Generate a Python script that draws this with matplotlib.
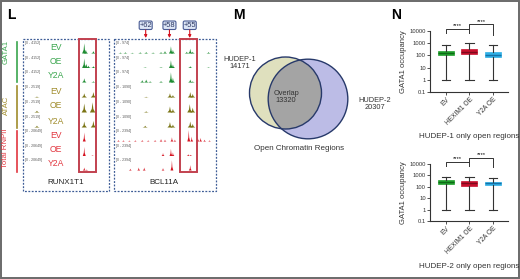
import numpy as np
import matplotlib.pyplot as plt
from matplotlib.patches import Circle, Rectangle, FancyBboxPatch

plt.rcParams['font.family'] = ['Liberation Sans', 'DejaVu Sans']

W, H = 520, 279

# ---- track data (position as fraction of window, height as fraction of track range)
groups = ['GATA1', 'ATAC', 'Total RNPII']
samples = ['EV', 'OE', 'Y2A']
group_colors = ['#1e8c32', '#7a7414', '#d5121f']
label_colors = ['#3aa64e', '#a08c2c', '#e2363f']
left_ranges = ['[0 - 4152]', '[0 - 2519]', '[0 - 20649]']
right_ranges = ['[0 - 974]', '[0 - 1090]', '[0 - 2394]']

runx1t1_peaks = [
    [(0.72, 0.85), (0.74, 0.3), (0.83, 0.2)],
    [(0.72, 0.8), (0.745, 0.35), (0.77, 0.2), (0.83, 0.15)],
    [(0.72, 0.35), (0.83, 0.1)],
    [(0.15, 0.08), (0.72, 0.35), (0.83, 0.45)],
    [(0.15, 0.15), (0.72, 0.75), (0.82, 0.85)],
    [(0.15, 0.15), (0.72, 0.5), (0.83, 0.55)],
    [(0.72, 0.75)],
    [(0.72, 0.75), (0.82, 0.05)],
    [(0.72, 0.25), (0.75, 0.08)],
]
bcl11a_peaks = [
    [(0.05, 0.08), (0.1, 0.1), (0.17, 0.06), (0.25, 0.1), (0.31, 0.12), (0.38, 0.08),
     (0.46, 0.12), (0.5, 0.2), (0.56, 0.6), (0.58, 0.3), (0.72, 0.15), (0.755, 0.4),
     (0.78, 0.15), (0.94, 0.12)],
    [(0.3, 0.05), (0.46, 0.06), (0.56, 0.65), (0.58, 0.3), (0.755, 0.15), (0.94, 0.05)],
    [(0.27, 0.2), (0.31, 0.25), (0.35, 0.1), (0.46, 0.12), (0.56, 0.85), (0.58, 0.4),
     (0.755, 0.25), (0.78, 0.1)],
    [(0.31, 0.06), (0.55, 0.35), (0.58, 0.2), (0.755, 0.45), (0.78, 0.3)],
    [(0.31, 0.1), (0.55, 0.5), (0.58, 0.3), (0.75, 0.7), (0.78, 0.4)],
    [(0.3, 0.15), (0.55, 0.45), (0.58, 0.25), (0.755, 0.5), (0.78, 0.3)],
    [(0.03, 0.12), (0.08, 0.1), (0.14, 0.08), (0.2, 0.1), (0.27, 0.12), (0.33, 0.1),
     (0.4, 0.12), (0.46, 0.2), (0.5, 0.15), (0.57, 0.35), (0.6, 0.15), (0.74, 0.95),
     (0.77, 0.4), (0.83, 0.5), (0.86, 0.3), (0.9, 0.15), (0.95, 0.1)],
    [(0.48, 0.25), (0.56, 0.6), (0.58, 0.3), (0.735, 0.15), (0.76, 0.1)],
    [(0.15, 0.15), (0.235, 0.25), (0.29, 0.25), (0.48, 0.2), (0.57, 0.85), (0.755, 0.45)],
]
enhancers = ['+62', '+58', '+55']
enhancer_pos = [0.31, 0.55, 0.755]

# ---- venn data
venn_names = ['HUDEP-1', 'HUDEP-2']
venn_only = [14171, 20307]
venn_overlap = 13320

# ---- box plot data (GATA1 occupancy)
box_labels = ['EV', 'HEXIM1 OE', 'Y2A OE']
box_colors = ['#22a22e', '#c8102e', '#2fb0e6']
med_colors = ['#0d6b16', '#7d0a1c', '#1572a8']
h1_low = [1, 1, 1]
h1_q1 = [100, 125, 70]
h1_med = [150, 200, 115]
h1_q3 = [230, 320, 180]
h1_high = [700, 980, 700]
h2_low = [1, 1, 1]
h2_q1 = [170, 120, 150]
h2_med = [260, 210, 210]
h2_q3 = [400, 330, 290]
h2_high = [800, 800, 650]


def pax(x, y, w, h):
    return fig.add_axes([x / W, 1 - (y + h) / H, w / W, h / H])


fig = plt.figure(figsize=(5.2, 2.79), dpi=100)

# ---------------- panel L : tracks
baselines = [53, 67.5, 82, 97, 112, 127, 141, 155.5, 170]
track_w = [0.026, 0.032, 0.018]
for col, (x0, x1, peaks, ranges) in enumerate([(24, 107, runx1t1_peaks, left_ranges),
                                               (115, 214, bcl11a_peaks, right_ranges)]):
    for i, pk in enumerate(peaks):
        g = i // 3
        ax = pax(x0, baselines[i] - 12, x1 - x0, 12)
        ax.set_xlim(0, 1)
        ax.set_ylim(0, 1)
        ax.axis('off')
        ax.axhline(0, color=group_colors[g], lw=0.6, alpha=0.6)
        w = track_w[g] * (1 if col == 0 else 0.8)
        for p, h in pk:
            ax.fill_between([p - w, p - w * 0.3, p, p + w * 0.3, p + w],
                            [0, h * 0.35, h, h * 0.35, 0], color=group_colors[g], lw=0)
        ax.text(0.01, 1.0, ranges[g], fontsize=2.5, color='#555555', va='top', ha='left',
                transform=ax.transAxes)

ov = fig.add_axes([0, 0, 1, 1])
ov.set_xlim(0, W)
ov.set_ylim(H, 0)
ov.axis('off')
ov.patch.set_alpha(0)

# outer frame
ov.add_patch(Rectangle((1, 1), W - 2.5, H - 2.5, fill=False, ec='#6a6a6a', lw=1.4))

ov.text(7, 15, 'L', fontsize=10, fontweight='bold', va='center', ha='left')
ov.text(233, 15, 'M', fontsize=10, fontweight='bold', va='center', ha='left')
ov.text(391, 15, 'N', fontsize=10, fontweight='bold', va='center', ha='left')

# dashed frames
for (x, wd) in [(23, 86), (114, 102)]:
    ov.add_patch(Rectangle((x, 39), wd, 152, fill=False, ec='#3d5c96', lw=0.9, ls=(0, (1.5, 1.2))))
# highlighted regions
for x in [78.5, 180]:
    ov.add_patch(Rectangle((x, 39), 17, 133, fill=False, ec='#c2414f', lw=1.4))

# group labels
grp_line = [(42, 82), (86, 128), (131, 172)]
grp_txt = [52, 105, 148]
for g in range(3):
    ov.plot([17, 17], grp_line[g], color=label_colors[g], lw=1.2)
    ov.text(6, grp_txt[g], groups[g], rotation=90, color=label_colors[g], fontsize=5.6,
            ha='center', va='center')
    for s in range(3):
        ov.text(56, baselines[g * 3 + s] - 6, samples[s], color=label_colors[g], fontsize=6.2,
                ha='center', va='center')

ov.text(66, 182, 'RUNX1T1', fontsize=5.8, ha='center', va='center', color='#222222')
ov.text(164, 182, 'BCL11A', fontsize=5.8, ha='center', va='center', color='#222222')

# enhancer callouts
for lab, p in zip(enhancers, enhancer_pos):
    xc = 115 + p * 99
    ov.add_patch(FancyBboxPatch((xc - 6.5, 21), 13, 8.5, boxstyle='round,pad=0,rounding_size=1.5',
                                fc='#dde6f6', ec='#4a5c94', lw=0.8))
    ov.text(xc, 25.5, lab, fontsize=5.4, ha='center', va='center', color='#2a3560')
    ov.annotate('', xy=(xc, 38), xytext=(xc, 30),
                arrowprops=dict(arrowstyle='-|>', color='#d5121f', lw=0.8,
                                mutation_scale=4, shrinkA=0, shrinkB=0))

# ---------------- panel M : venn
tot = [venn_only[0] + venn_overlap, venn_only[1] + venn_overlap]
k = 36 / np.sqrt(tot[0])
r1, r2 = k * np.sqrt(tot[0]), k * np.sqrt(tot[1])
c1, c2 = (285.5, 93), (308, 99)
ov.add_patch(Circle(c2, r2, fc='#bcbce6', ec='none'))
ov.add_patch(Circle(c1, r1, fc='#dfe0be', ec='none'))
clip = Circle(c2, r2, transform=ov.transData)
ov_patch = Circle(c1, r1, fc='#a4a4a4', ec='none')
ov.add_patch(ov_patch)
ov_patch.set_clip_path(clip)
ov.add_patch(Circle(c1, r1, fill=False, ec='#27396a', lw=1.0))
ov.add_patch(Circle(c2, r2, fill=False, ec='#27396a', lw=1.0))
ov.text(240, 63, f'{venn_names[0]}\n{venn_only[0]}', fontsize=5.3, ha='center', va='center',
        color='#333333', linespacing=1.1)
ov.text(286, 97, f'Overlap\n{venn_overlap}', fontsize=5.3, ha='center', va='center',
        color='#333333', linespacing=1.1)
ov.text(375, 104, f'{venn_names[1]}\n{venn_only[1]}', fontsize=5.3, ha='center', va='center',
        color='#333333', linespacing=1.1)
ov.text(299, 149, 'Open Chromatin Regions', fontsize=5.8, ha='center', va='center', color='#333333')


# ---------------- panel N : box plots
def box_panel(ytop, ybot, lo, q1, med, q3, hi, title, ytitle):
    ax = pax(430, ytop, 78, ybot - ytop)
    stats = [dict(whislo=a, q1=b, med=c, q3=d, whishi=e, label=l)
             for a, b, c, d, e, l in zip(lo, q1, med, q3, hi, box_labels)]
    bp = ax.bxp(stats, showfliers=False, patch_artist=True, widths=0.68, capwidths=0.38,
                whiskerprops=dict(color='#333333', lw=0.8), capprops=dict(color='#333333', lw=0.8))
    for b, m, c, mc in zip(bp['boxes'], bp['medians'], box_colors, med_colors):
        b.set_facecolor(c)
        b.set_edgecolor(c)
        b.set_linewidth(0.5)
        m.set_color(mc)
        m.set_linewidth(1.0)
    ax.set_yscale('log')
    ax.set_ylim(0.1, 10000)
    ax.set_xlim(0.32, 3.64)
    ax.set_yticks([0.1, 1, 10, 100, 1000, 10000])
    ax.set_yticklabels(['0.1', '1', '10', '100', '1000', '10000'])
    ax.minorticks_off()
    for s in ['top', 'right']:
        ax.spines[s].set_visible(False)
    for s in ['left', 'bottom']:
        ax.spines[s].set_linewidth(0.8)
        ax.spines[s].set_color('#333333')
    ax.tick_params(labelsize=4.2, length=2, width=0.6, pad=1, colors='#333333')
    ax.set_xticks([1, 2, 3])
    ax.set_xticklabels(box_labels, rotation=45, ha='right', rotation_mode='anchor', fontsize=4.8)
    ax.set_ylabel('GATA1 occupancy', fontsize=5.5, labelpad=2, color='#333333')
    # significance brackets
    ax.plot([1, 1, 2, 2], [10**3.85, 10**4.2, 10**4.2, 10**3.85], color='#333333', lw=0.7, clip_on=False)
    ax.plot([2, 2, 3, 3], [10**4.2, 10**4.55, 10**4.55, 10**3.7], color='#333333', lw=0.7, clip_on=False)
    ax.text(1.5, 10**4.25, '****', fontsize=4.2, ha='center', va='bottom', clip_on=False)
    ax.text(2.5, 10**4.6, '****', fontsize=4.2, ha='center', va='bottom', clip_on=False)
    ov.text(469, ytitle, title, fontsize=5.8, ha='center', va='center', color='#333333')
    return ax


box_panel(31, 92, h1_low, h1_q1, h1_med, h1_q3, h1_high, 'HUDEP-1 only open regions', 137)
box_panel(164, 221, h2_low, h2_q1, h2_med, h2_q3, h2_high, 'HUDEP-2 only open regions', 267)

fig.savefig('out.png', dpi=100)
